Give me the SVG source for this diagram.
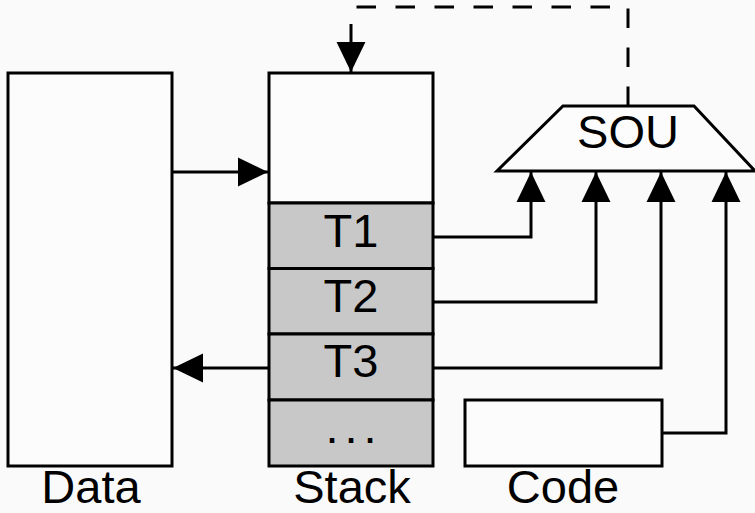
<svg xmlns="http://www.w3.org/2000/svg" width="755" height="513" viewBox="0 0 755 513">
<defs>
<style>
.box{fill:#fcfcfc;stroke:#000;stroke-width:3}
.cell{fill:#c8c8c8;stroke:#000;stroke-width:3}
.ln{fill:none;stroke:#000;stroke-width:3}
.dash{fill:none;stroke:#000;stroke-width:3;stroke-dasharray:19.5 19.5}
text{font-family:"Liberation Sans",Arial,sans-serif;font-size:47px;fill:#000;text-anchor:middle}
</style>
<marker id="ah" markerUnits="userSpaceOnUse" markerWidth="30" markerHeight="30" viewBox="0 0 28 27" refX="28" refY="13.5" orient="auto">
<path d="M0,0 L28,13.5 L0,27 Z" fill="#000"/>
</marker>
</defs>
<rect width="755" height="513" fill="#fafafa"/>
<g id="data">
<rect class="box" x="8" y="73" width="164" height="393"/>
<text x="91" y="503">Data</text>
</g>
<g id="stack">
<rect class="box" x="269" y="73" width="164" height="130"/>
<rect class="cell" x="269" y="203" width="164" height="65.5"/>
<rect class="cell" x="269" y="268.5" width="164" height="65.5"/>
<rect class="cell" x="269" y="334" width="164" height="66"/>
<rect class="cell" x="269" y="400" width="164" height="66"/>
<text x="351" y="247">T1</text>
<text x="351" y="312">T2</text>
<text x="351" y="377">T3</text>
<text x="354" y="443" style="letter-spacing:6px">...</text>
<text x="352" y="503">Stack</text>
</g>
<g id="sou">
<path class="box" d="M563,106 L694,106 L755,171 L497,171 Z"/>
<text x="628" y="148">SOU</text>
</g>
<g id="code">
<rect class="box" x="465" y="400" width="197" height="66"/>
<text x="563" y="503">Code</text>
</g>
<g id="connectors">
<path class="ln" d="M172,172 L268,172" marker-end="url(#ah)"/>
<path class="ln" d="M269,368 L173,368" marker-end="url(#ah)"/>
<path class="ln" d="M433,237 L531,237 L531,172" marker-end="url(#ah)"/>
<path class="ln" d="M433,302 L596,302 L596,172" marker-end="url(#ah)"/>
<path class="ln" d="M433,368 L661,368 L661,172" marker-end="url(#ah)"/>
<path class="ln" d="M662,433 L726,433 L726,172" marker-end="url(#ah)"/>
<path class="dash" d="M628,106 L628,7 L354,7"/>
<path class="ln" d="M351,24 L351,72" marker-end="url(#ah)"/>
</g>
</svg>
